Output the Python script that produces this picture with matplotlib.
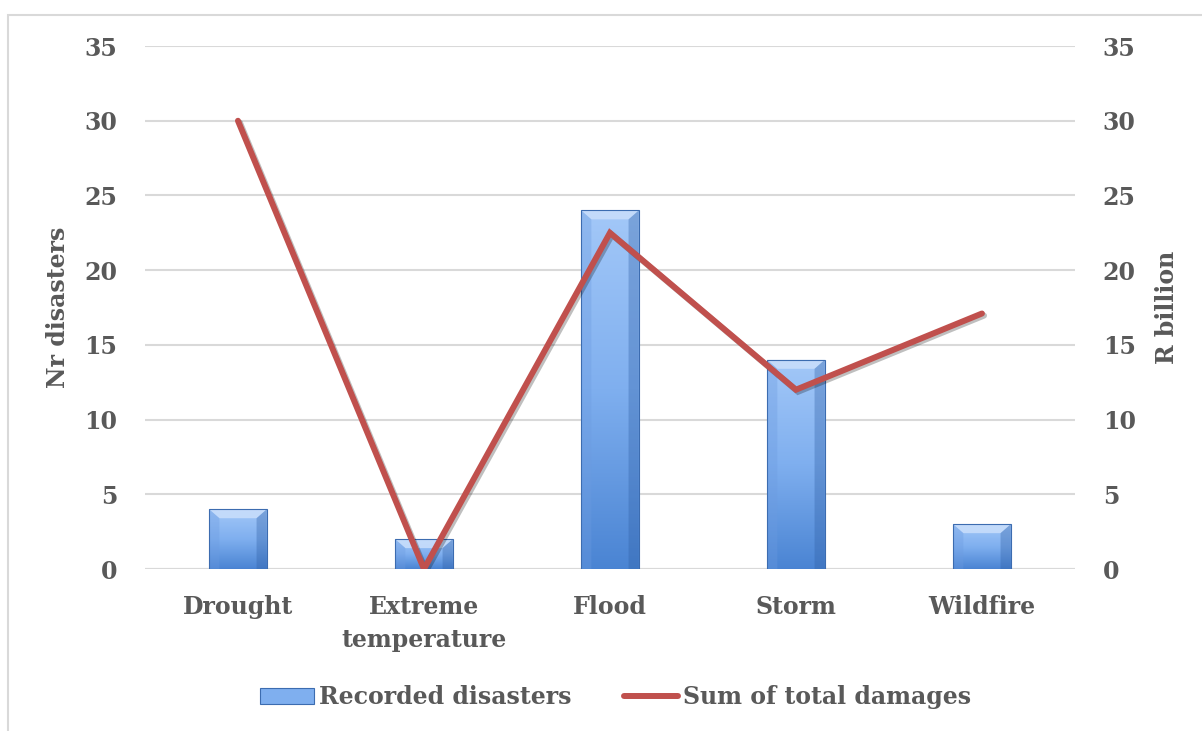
import numpy as np
import matplotlib
matplotlib.use("Agg")
import matplotlib.pyplot as plt
from matplotlib.patches import Rectangle, Polygon, Patch
from matplotlib.lines import Line2D
import matplotlib.patheffects as pe

categories = ["Drought", "Extreme\ntemperature", "Flood", "Storm", "Wildfire"]
recorded_disasters = [4, 2, 24, 14, 3]
total_damages = [30, 0, 22.5, 12, 17.1]
y_ticks = [0, 5, 10, 15, 20, 25, 30, 35]

TEXT = "#595959"
GRID = "#D9D9D9"
RED = "#C0504D"
FS = 17
FONT = dict(family="DejaVu Serif", weight="bold", color=TEXT)

fig = plt.figure(figsize=(12.02, 7.31), dpi=100)
ax = fig.add_axes([0.1206, 0.2216, 0.7737, 0.7154])
ax2 = ax.twinx()

x = np.arange(len(categories))
width = 0.31

ax.set_xlim(-0.5, len(categories) - 0.5)
ax.set_ylim(0, 35)
ax2.set_ylim(0, 35)

# gradient bars with a bevelled top
grad = np.linspace(0, 1, 256).reshape(-1, 1)
cmap = matplotlib.colors.LinearSegmentedColormap.from_list(
    "bar", ["#4A84D3", "#7FAFEF", "#A3C8F8"])
bx = 0.055  # bevel width in x data units
by = 0.6    # bevel depth in y data units
for xi, h in zip(x, recorded_disasters):
    left, right = xi - width / 2, xi + width / 2
    rect = Rectangle((left, 0), width, h, facecolor="none", edgecolor="none")
    ax.add_patch(rect)
    im = ax.imshow(grad, extent=[left, right, 0, h], origin="lower",
                   cmap=cmap, aspect="auto", zorder=2, interpolation="bicubic")
    im.set_clip_path(rect)
    d = min(by, h * 0.3)
    top = Polygon([[left, h], [right, h], [right - bx, h - d], [left + bx, h - d]],
                  closed=True, facecolor="#C7DDFB", edgecolor="none", zorder=3, alpha=0.9)
    ax.add_patch(top)
    lside = Polygon([[left, h], [left + bx, h - d], [left + bx, 0], [left, 0]],
                    closed=True, facecolor="#6C9BE0", edgecolor="none", zorder=3, alpha=0.35)
    rside = Polygon([[right, h], [right - bx, h - d], [right - bx, 0], [right, 0]],
                    closed=True, facecolor="#2F5FA5", edgecolor="none", zorder=3, alpha=0.35)
    ax.add_patch(lside)
    ax.add_patch(rside)
    ax.add_patch(Rectangle((left, 0), width, h, facecolor="none",
                           edgecolor="#3C6CB0", linewidth=0.8, zorder=4))

ax2.plot(x, total_damages, color=RED, linewidth=4.3, solid_capstyle="round",
         solid_joinstyle="miter", zorder=5,
         path_effects=[pe.SimpleLineShadow(offset=(1.5, -1.5), alpha=0.25, shadow_color="k"),
                       pe.Normal()])

ax.set_yticks(y_ticks)
ax2.set_yticks(y_ticks)
ax.set_xticks(x)
ax.set_xticklabels(categories, fontsize=FS, linespacing=1.45, **FONT)
for a in (ax, ax2):
    a.set_yticklabels([str(t) for t in y_ticks], fontsize=FS, **FONT)
    a.tick_params(length=0)
    for s in a.spines.values():
        s.set_visible(False)
ax.tick_params(axis="y", pad=20)
ax2.tick_params(axis="y", pad=20)
ax.tick_params(axis="x", pad=19)

ax.yaxis.grid(True, color=GRID, linewidth=1.5)
ax.set_axisbelow(True)
ax.axhline(0, color=GRID, linewidth=1.5, zorder=1)

ax.set_ylabel("Nr disasters", fontsize=FS, labelpad=10, **FONT)
ax2.set_ylabel("R billion", fontsize=FS, labelpad=14, **FONT)

handles = [Patch(facecolor="#7FAFEF", edgecolor="#3C6CB0", linewidth=0.8),
           Line2D([0], [0], color=RED, linewidth=4.3, solid_capstyle="round")]
leg = fig.legend(handles, ["Recorded disasters", "Sum of total damages"],
                 loc="center", bbox_to_anchor=(0.512, 0.046), ncol=2, frameon=False,
                 prop=dict(family="DejaVu Serif", weight="bold", size=FS),
                 handlelength=2.3, handletextpad=0.2, columnspacing=2.2)
for t in leg.get_texts():
    t.set_color(TEXT)

# outer chart frame
fig.add_artist(Rectangle((8 / 1202, -0.05), 1.1, 1 - 15 / 731 + 0.05,
                         transform=fig.transFigure, facecolor="none",
                         edgecolor=GRID, linewidth=1.5))

fig.savefig("out.png", dpi=100, facecolor="white")
